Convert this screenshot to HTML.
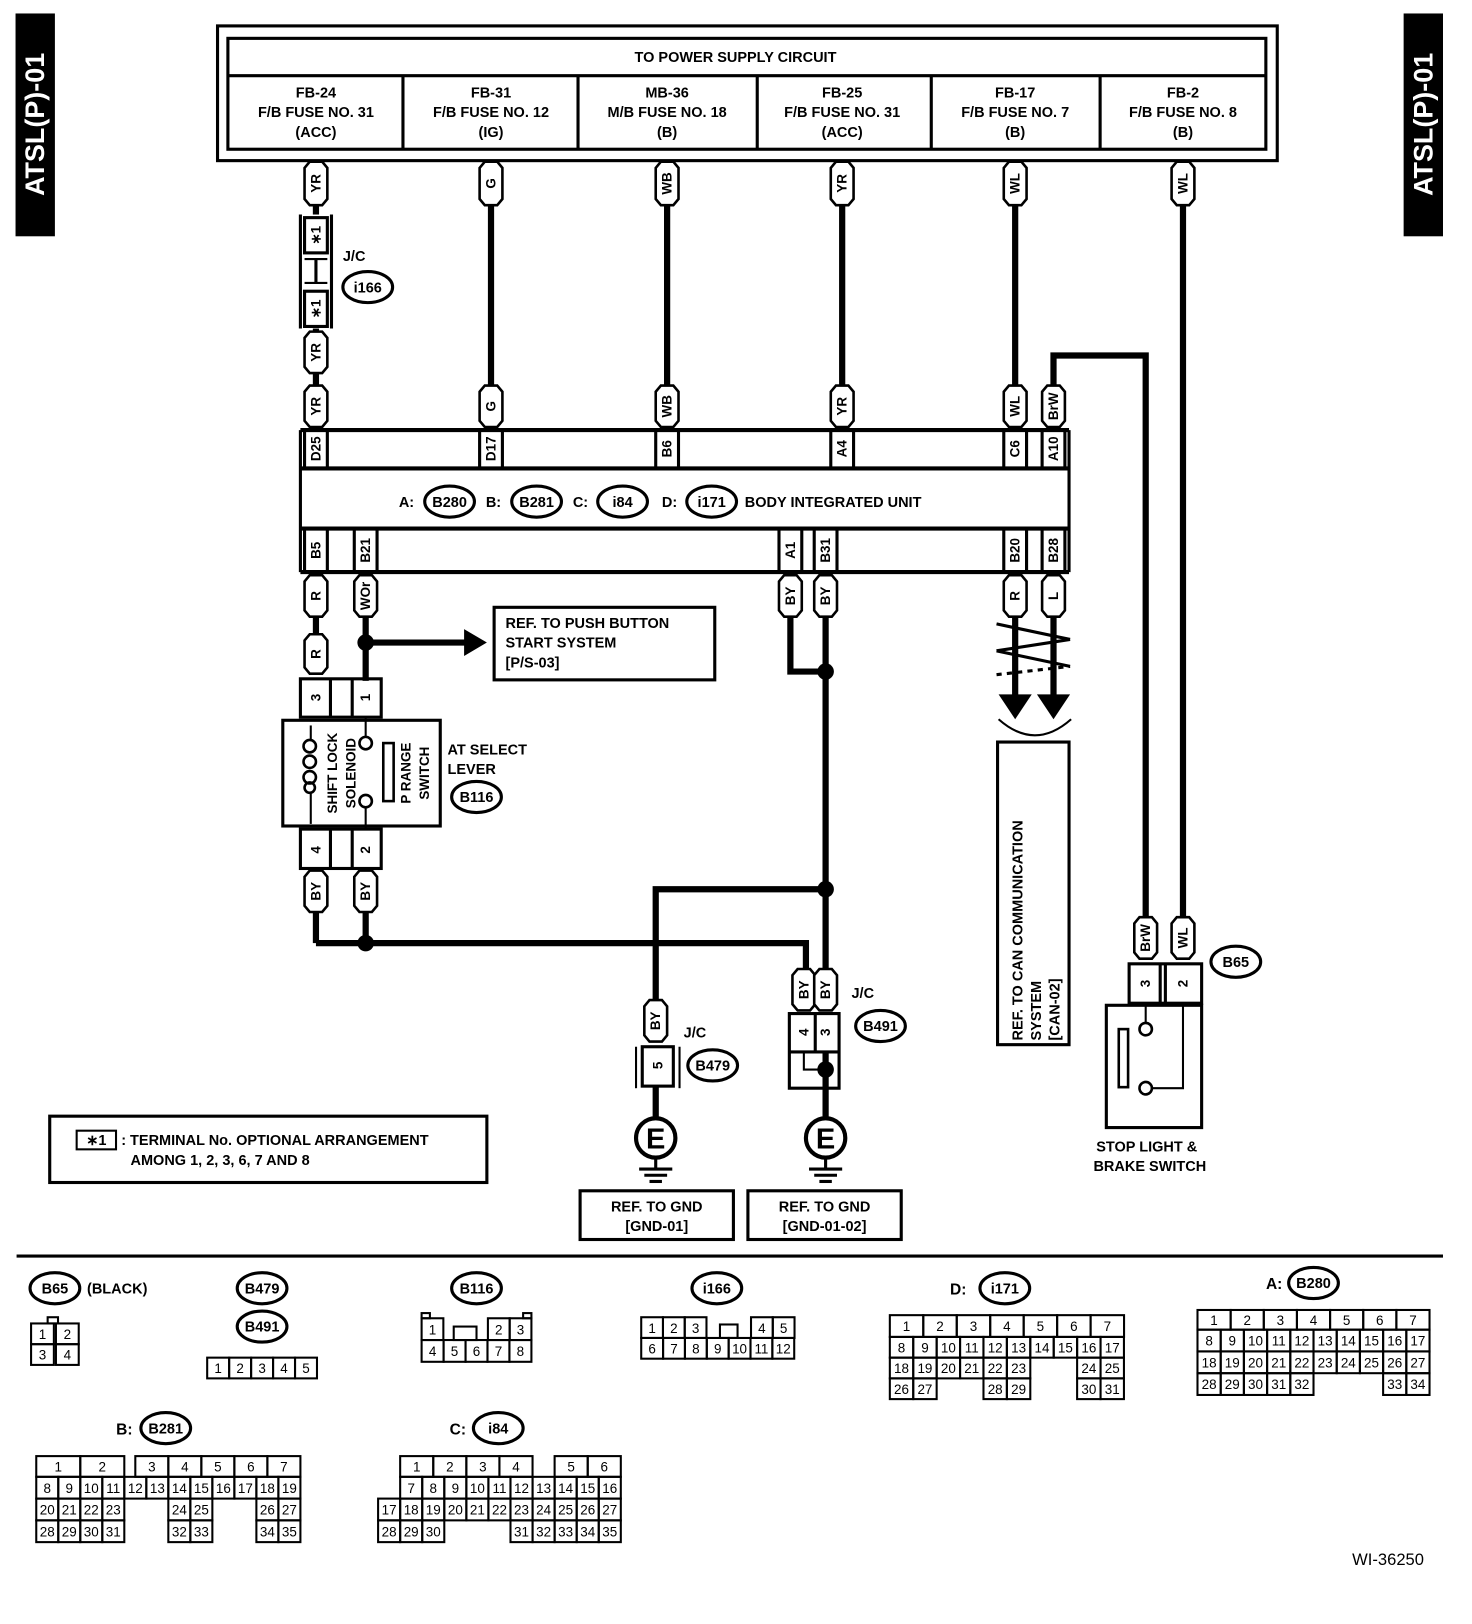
<!DOCTYPE html>
<html><head><meta charset="utf-8"><style>
html,body{margin:0;padding:0;background:#fff}
svg{display:block}
text{font-family:"Liberation Sans",Arial,sans-serif;font-weight:bold;fill:#000}
</style></head><body>
<svg id="s" xmlns="http://www.w3.org/2000/svg" width="1472" height="1624" viewBox="0 0 1421 1567" preserveAspectRatio="none">
</svg>
<script>
let o='';
const L=(x1,y1,x2,y2,w)=>o+=`<line x1="${x1}" y1="${y1}" x2="${x2}" y2="${y2}" stroke="#000" stroke-width="${w||2}"/>`;
const P=(pts,w)=>o+=`<polyline points="${pts}" fill="none" stroke="#000" stroke-width="${w||6}" stroke-linejoin="miter"/>`;
const R=(x,y,w,h,sw,f)=>o+=`<rect x="${x}" y="${y}" width="${w}" height="${h}" fill="${f||'none'}" stroke="#000" stroke-width="${sw||2}"/>`;
const T=(x,y,t,s,a,extra)=>o+=`<text x="${x}" y="${y}" font-size="${s||14}" text-anchor="${a||'middle'}" ${extra||''}>${t}</text>`;
const VT=(x,y,t,s)=>o+=`<text transform="translate(${x},${y}) rotate(-90)" font-size="${s||14}" text-anchor="middle" dominant-baseline="central">${t}</text>`;
const OV=(x,y,t,rx)=>{o+=`<ellipse cx="${x}" cy="${y}" rx="${rx||24}" ry="15" fill="#fff" stroke="#000" stroke-width="3"/>`;T(x,y+5,t,14);};
const DOT=(x,y)=>o+=`<circle cx="${x}" cy="${y}" r="8" fill="#000"/>`;
const W=6;
function pill(cx,y1,y2,t){const w=22,x=cx-w/2;o+=`<path d="M${x} ${y1+6} L${x+5} ${y1} L${x+w-5} ${y1} L${x+w} ${y1+6} L${x+w} ${y2-6} L${x+w-5} ${y2} L${x+5} ${y2} L${x} ${y2-6} Z" fill="#fff" stroke="#000" stroke-width="2.5"/>`;VT(cx,(y1+y2)/2,t,13);}

R(16,14,36,213,0,'#000');R(1356,14,36,213,0,'#000');
o+=`<text transform="translate(34,120) rotate(-90)" font-size="26" text-anchor="middle" dominant-baseline="central" style="fill:#fff">ATSL(P)-01</text>`;
o+=`<text transform="translate(1374,120) rotate(-90)" font-size="26" text-anchor="middle" dominant-baseline="central" style="fill:#fff">ATSL(P)-01</text>`;

R(210,25,1023,130,3);R(220,37,1002,107,3);L(220,73,1222,73,3);
[389,558,731,899,1062].forEach(x=>L(x,73,x,144,3));
T(710,60,'TO POWER SUPPLY CIRCUIT',14);
const cols=[[305,'FB-24','F/B FUSE NO. 31','(ACC)'],[474,'FB-31','F/B FUSE NO. 12','(IG)'],[644,'MB-36','M/B FUSE NO. 18','(B)'],[813,'FB-25','F/B FUSE NO. 31','(ACC)'],[980,'FB-17','F/B FUSE NO. 7','(B)'],[1142,'FB-2','F/B FUSE NO. 8','(B)']];
cols.forEach(c=>{T(c[0],94,c[1],14);T(c[0],113,c[2],14);T(c[0],132,c[3],14);});

[474,644,813,980].forEach(x=>L(x,196,x,374,W));
L(305,196,305,374,W);
L(1142,196,1142,887,W);
P('1017,374 1017,343 1106,343 1106,887',W);
pill(305,156,198,'YR');pill(474,156,198,'G');pill(644,156,198,'WB');pill(813,156,198,'YR');pill(980,156,198,'WL');pill(1142,156,198,'WL');
o+=`<rect x="290" y="207" width="30" height="110" fill="#fff" stroke="none"/>`;
L(290,207,290,317,3);L(320,207,320,317,3);
R(294,210,22,34,3,'#fff');R(294,281,22,34,3,'#fff');
L(294,250,316,250,2);L(294,273,316,273,2);L(305,250,305,273,3);
VT(305,227,'∗1',13);VT(305,298,'∗1',13);
T(331,252,'J/C',14,'start');OV(355,277,'i166');
pill(305,320,360,'YR');
pill(305,372,412,'YR');pill(474,372,412,'G');pill(644,372,412,'WB');pill(813,372,412,'YR');pill(980,372,412,'WL');pill(1017,372,412,'BrW');

L(290,415,1032,415,4);L(290,452,1032,452,4);L(290,510,1032,510,4);L(290,552,1032,552,4);
L(290,415,290,552,3);L(1032,415,1032,552,3);
[[305,'D25'],[474,'D17'],[644,'B6'],[813,'A4'],[980,'C6'],[1017,'A10']].forEach(p=>{L(p[0]-11,415,p[0]-11,452,3);L(p[0]+11,415,p[0]+11,452,3);VT(p[0],433,p[1],13);});
[[305,'B5'],[353,'B21'],[763,'A1'],[797,'B31'],[980,'B20'],[1017,'B28']].forEach(p=>{L(p[0]-11,510,p[0]-11,552,3);L(p[0]+11,510,p[0]+11,552,3);VT(p[0],531,p[1],13);});
T(385,489,'A:',14,'start');OV(434,484,'B280');T(469,489,'B:',14,'start');OV(518,484,'B281');T(553,489,'C:',14,'start');OV(601,484,'i84');T(639,489,'D:',14,'start');OV(687,484,'i171');T(719,489,'BODY INTEGRATED UNIT',14,'start');

L(305,595,305,612,W);L(353,595,353,657,W);
L(353,620,455,620,W);o+=`<polygon points="448,607 470,620 448,633" fill="#000"/>`;DOT(353,620);
R(477,586,213,70,3);T(488,606,'REF. TO PUSH BUTTON',14,'start');T(488,625,'START SYSTEM',14,'start');T(488,644,'[P/S-03]',14,'start');
pill(305,555,595,'R');pill(353,555,595,'WOr');pill(305,612,650,'R');
R(290,655,78,37,3);L(319,655,319,692,3);L(340,655,340,692,3);VT(305,673,'3',13);VT(353,673,'1',13);
R(273,695,152,102,3);
L(300,700,300,715,2);L(300,765,300,795,2);
o+=`<circle cx="299" cy="720" r="6" fill="none" stroke="#000" stroke-width="2.5"/><circle cx="299" cy="735" r="6" fill="none" stroke="#000" stroke-width="2.5"/><circle cx="299" cy="750" r="6" fill="none" stroke="#000" stroke-width="2.5"/><circle cx="299" cy="760" r="5" fill="none" stroke="#000" stroke-width="2.5"/>`;
VT(321,746,'SHIFT LOCK',13);VT(339,746,'SOLENOID',13);
o+=`<circle cx="353" cy="717" r="6" fill="#fff" stroke="#000" stroke-width="2.5"/><circle cx="353" cy="773" r="6" fill="#fff" stroke="#000" stroke-width="2.5"/>`;
L(353,692,353,711,2);L(353,779,353,800,2);
R(370,717,10,56,2.5);VT(392,746,'P RANGE',13);VT(410,746,'SWITCH',13);
T(432,728,'AT SELECT',14,'start');T(432,747,'LEVER',14,'start');OV(460,769,'B116');
R(290,800,78,38,3);L(319,800,319,838,3);L(340,800,340,838,3);VT(305,820,'4',13);VT(353,820,'2',13);
L(305,880,305,910,W);L(353,880,353,910,W);P('305,910 778,910 778,937',W);DOT(353,910);
pill(305,840,880,'BY');pill(353,840,880,'BY');

P('763,595 763,648 797,648',W);L(797,595,797,937,W);DOT(797,648);DOT(797,858);
P('797,858 633,858 633,967',W);
pill(763,555,595,'BY');pill(797,555,595,'BY');
pill(633,965,1005,'BY');
R(620,1010,30,38,3);VT(635,1028,'5',13);L(614,1010,614,1050,2);L(656,1010,656,1050,2);
L(633,1048,633,1080,W);
T(660,1001,'J/C',14,'start');OV(688,1028,'B479');
pill(776,935,975,'BY');pill(797,935,975,'BY');
R(762,978,48,72,3);L(787,978,787,1015,3);L(762,1015,810,1015,3);VT(776,996,'4',13);VT(797,996,'3',13);
P('776,1015 776,1032 797,1032',2);L(797,1015,797,1080,W);DOT(797,1032);
T(822,963,'J/C',14,'start');OV(850,990,'B491');
[633,797].forEach(x=>{o+=`<circle cx="${x}" cy="1098" r="19" fill="#fff" stroke="#000" stroke-width="4"/>`;T(x,1108,'E',28);L(x,1117,x,1128,3);L(x-16,1128,x+16,1128,3);L(x-11,1134,x+11,1134,3);L(x-6,1140,x+6,1140,3);});
R(560,1149,148,47,3);T(634,1169,'REF. TO GND',14);T(634,1188,'[GND-01]',14);
R(722,1149,148,47,3);T(796,1169,'REF. TO GND',14);T(796,1188,'[GND-01-02]',14);
R(48,1077,422,64,3);R(74,1091,38,18,2);T(93,1105,'∗1',14);T(117,1105,': TERMINAL No. OPTIONAL ARRANGEMENT',14,'start');T(126,1124,'AMONG 1, 2, 3, 6, 7 AND 8',14,'start');

L(980,595,980,675,W);L(1017,595,1017,675,W);
o+=`<polygon points="964,670 996,670 980,694" fill="#000"/><polygon points="1001,670 1033,670 1017,694" fill="#000"/>`;
L(962,602,1033,617,3);L(1033,617,962,628,3);L(962,628,1033,643,3);o+=`<line x1="962" y1="651" x2="1033" y2="643" stroke="#000" stroke-width="3" stroke-dasharray="5,5"/>`;
o+=`<path d="M964 694 Q999 725 1034 694" fill="none" stroke="#000" stroke-width="2"/>`;
pill(980,555,595,'R');pill(1017,555,595,'L');
R(963,716,69,292,3);
o+=`<text transform="translate(987,1004) rotate(-90)" font-size="14">REF. TO CAN COMMUNICATION</text>`;
o+=`<text transform="translate(1005,1004) rotate(-90)" font-size="14">SYSTEM</text>`;
o+=`<text transform="translate(1023,1004) rotate(-90)" font-size="14">[CAN-02]</text>`;

pill(1106,885,925,'BrW');pill(1142,885,925,'WL');
R(1090,930,70,38,3);L(1125,930,1125,968,3);L(1120,930,1120,968,3);VT(1106,949,'3',13);VT(1142,949,'2',13);
OV(1193,928,'B65');
R(1068,970,92,118,3);o+=`<circle cx="1106" cy="993" r="6" fill="#fff" stroke="#000" stroke-width="2.5"/><circle cx="1106" cy="1050" r="6" fill="#fff" stroke="#000" stroke-width="2.5"/>`;
L(1106,968,1106,987,2);P('1112,1050 1142,1050 1142,968',2);R(1080,993,9,56,2.5);
T(1107,1111,'STOP LIGHT &amp;',14);T(1110,1130,'BRAKE SWITCH',14);

L(16,1212,1393,1212,3);
T(1340,1510,'WI-36250',16,'middle','style="font-weight:normal"');

function cell(x,y,w,h,t){R(x,y,w,h,2);T(x+w/2,y+h/2+5,t,13,'middle','style="font-weight:normal"');}
OV(53,1243,'B65');T(84,1248,'(BLACK)',14,'start');
R(46,1271,10,6,2);cell(30,1277,22,20,'1');cell(54,1277,22,20,'2');cell(30,1297,22,20,'3');cell(54,1297,22,20,'4');
OV(253,1243,'B479');OV(253,1280,'B491');
for(let i=0;i<5;i++)cell(200+i*21.2,1310,21.2,20,''+(i+1));
OV(460,1243,'B116');
cell(407,1272,21,21,'1');cell(471,1272,21,21,'2');cell(492,1272,21,21,'3');R(438,1280,22,13,2);R(407,1267,8,5,2);R(505,1267,8,5,2);
for(let i=0;i<5;i++)cell(407+i*21.2,1293,21.2,21,''+(4+i));
OV(692,1243,'i166');
[1,2,3].forEach((n,i)=>cell(619+i*21,1271,21,20,''+n));R(695,1278,17,13,2);cell(725,1271,21,20,'4');cell(746,1271,21,20,'5');
for(let i=0;i<7;i++)cell(619+i*21.1,1291,21.1,20,''+(6+i));
T(925,1249,'D:',15);OV(970,1243,'i171');
for(let i=0;i<7;i++)cell(859+i*32.3,1269,32.3,21,''+(i+1));
{const cw=22.6,x0=859;const rows=[[1290,[0,1,2,3,4,5,6,7,8,9],8],[1310,[0,1,2,3,4,5,8,9],18],[1330,[0,1,4,5,8,9],26]];
rows.forEach(r=>r[1].forEach((c,k)=>cell(x0+c*cw,r[0],cw,20,''+(r[2]+k))));}
T(1230,1244,'A:',15);OV(1268,1238,'B280');
for(let i=0;i<7;i++)cell(1156+i*32,1264,32,19,''+(i+1));
{const cw=22.4,x0=1156;[[1283,[0,1,2,3,4,5,6,7,8,9],8],[1304,[0,1,2,3,4,5,6,7,8,9],18],[1325,[0,1,2,3,4,8,9],28]].forEach(r=>r[1].forEach((c,k)=>cell(x0+c*cw,r[0],cw,21,''+(r[2]+k))));}
T(120,1384,'B:',15);OV(160,1378,'B281');
{const cw=21.25,x0=35;cell(x0,1405,2*cw,20,'1');cell(x0+2*cw,1405,2*cw,20,'2');
for(let i=0;i<5;i++)cell(x0+4.5*cw+i*cw*1.5,1405,cw*1.5,20,''+(3+i));
[[1425,[0,1,2,3,4,5,6,7,8,9,10,11],8],[1446,[0,1,2,3,6,7,10,11],20],[1467,[0,1,2,3,6,7,10,11],28]].forEach(r=>r[1].forEach((c,k)=>cell(x0+c*cw,r[0],cw,21,''+(r[2]+k))));}
T(442,1384,'C:',15);OV(481,1378,'i84');
{const cw=21.3,x0=365;for(let i=0;i<4;i++)cell(x0+cw+i*cw*1.5,1405,cw*1.5,20,''+(i+1));
cell(x0+8*cw,1405,cw*1.5,20,'5');cell(x0+9.5*cw,1405,cw*1.5,20,'6');
[[1425,[1,2,3,4,5,6,7,8,9,10],7],[1446,[0,1,2,3,4,5,6,7,8,9,10],17],[1467,[0,1,2,6,7,8,9,10],28]].forEach(r=>r[1].forEach((c,k)=>{let n=r[2]+k;cell(x0+c*cw,r[0],cw,21,''+n);}));}
document.getElementById('s').innerHTML=o;
</script>
</body></html>
